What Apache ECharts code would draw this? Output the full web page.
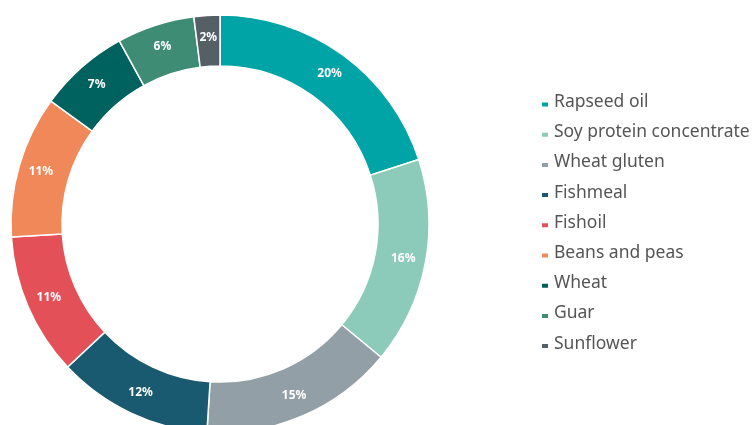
<!DOCTYPE html>
<html>
<head>
<meta charset="utf-8">
<script src="https://cdn.jsdelivr.net/npm/echarts@6/dist/echarts.min.js"></script>
<style>
html,body{margin:0;padding:0;background:#fff;}
#c{width:752px;height:425px;}
</style>
</head>
<body>
<div id="c"></div>
<script>
var categories = ["Rapseed oil","Soy protein concentrate","Wheat gluten","Fishmeal","Fishoil","Beans and peas","Wheat","Guar","Sunflower"];
var values = [20,16,15,12,11,11,7,6,2];
var colors = ["#00a3a6","#8ccbba","#939fa6","#1a5a70","#e35058","#f0885a","#00625e","#3e8c74","#555f66"];

var legendBase = {
  orient:'vertical',
  left: 535,
  padding: 5,
  itemWidth: 8,
  itemHeight: 6,
  itemGap: 12.2,
  selectedMode:false,
  data: categories
};
var chart = echarts.init(document.getElementById('c'), null, {renderer:'canvas'});
chart.setOption({
  animation:false,
  color: colors,
  legend: [
    Object.assign({}, legendBase, {
      top: 88, icon:'none',
      textStyle: {fontFamily:'Noto Sans', fontSize:17.5, color:'#555', padding:[0,0,0,1]}
    }),
    Object.assign({}, legendBase, {
      top: 90.5, icon:'rect',
      textStyle: {fontFamily:'Noto Sans', fontSize:17.5, color:'rgba(0,0,0,0)', padding:[0,0,0,1]}
    })
  ],
  series: [{
    type:'pie',
    center:[220,224],
    radius:[158,209],
    startAngle:90,
    clockwise:true,
    avoidLabelOverlap:false,
    itemStyle:{borderColor:'#fff', borderWidth:1.5},
    label:{show:true, position:'inside', formatter:'{c}%', color:'#fff', fontWeight:'bold', fontSize:12, fontFamily:'Noto Sans'},
    labelLine:{show:false},
    data: categories.map(function(n,i){return {name:n, value:values[i]};})
  }]
});
</script>
</body>
</html>
